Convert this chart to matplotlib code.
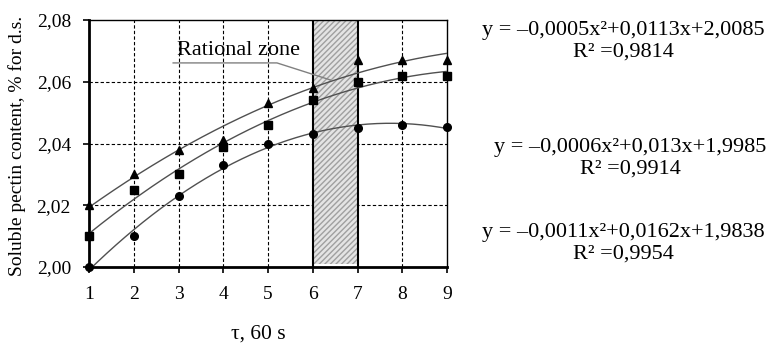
import numpy as np
import matplotlib.pyplot as plt
from matplotlib.patches import Rectangle

plt.rcParams['font.family'] = ['Liberation Serif', 'DejaVu Serif']

# time, x 60 s
tau = [1, 2, 3, 4, 5, 6, 7, 8, 9]
# soluble pectin content, % for d.s.
tri = [2.020, 2.030, 2.038, 2.041, 2.053, 2.058, 2.067, 2.067, 2.067]
sqr = [2.010, 2.025, 2.030, 2.039, 2.046, 2.054, 2.060, 2.062, 2.062]
circ = [2.000, 2.010, 2.023, 2.033, 2.040, 2.043, 2.045, 2.046, 2.0455]

eq_texts = ["y = \u20130,0005x\u00b2+0,0113x+2,0085\nR\u00b2 =0,9814",
            "y = \u20130,0006x\u00b2+0,013x+1,9985\nR\u00b2 =0,9914",
            "y = \u20130,0011x\u00b2+0,0162x+1,9838\nR\u00b2 =0,9954"]
zone = (6, 7)

fig = plt.figure(figsize=(7.71, 3.45), dpi=100)
ax = fig.add_axes([89/771, 1-267/345, 358/771, 247/345])

ax.set_xlim(1, 9)
ax.set_ylim(2.0, 2.08)

# dashed grid
for xv in [2, 3, 4, 5, 8]:
    ax.axvline(xv, color='black', ls=(0, (3, 2)), lw=0.8, zorder=1)
for yv in [2.02, 2.04, 2.06]:
    ax.axhline(yv, color='black', ls=(0, (3, 2)), lw=0.8, zorder=1)

# rational zone
ax.add_patch(Rectangle((zone[0], 2.001), zone[1]-zone[0], 0.079,
                       facecolor='#e4e4e4', edgecolor='#a0a0a0',
                       hatch='//////', lw=0, zorder=1))
for xv in zone:
    ax.axvline(xv, color='black', lw=1.5, zorder=2)

# trend lines
xs = np.linspace(1, 9, 200)
for ys in [tri, sqr, circ]:
    c = np.polyfit(tau, ys, 2)
    ax.plot(xs, np.polyval(c, xs), color='#505050', lw=1, zorder=3)

ax.plot(tau, tri, '^', color='black', ms=5.5, zorder=4, clip_on=False)
ax.plot(tau, sqr, 's', color='black', ms=6, zorder=4, clip_on=False)
ax.plot(tau, circ, 'o', color='black', ms=5.5, zorder=4, clip_on=False)

ax.set_xticks(tau)
ax.set_yticks([2.00, 2.02, 2.04, 2.06, 2.08])
ax.set_yticklabels(['2,00', '2,02', '2,04', '2,06', '2,08'])
ax.tick_params(labelsize=14, length=4, width=1.2, direction='out')
ax.tick_params(axis='x', pad=10)
ax.tick_params(axis='y', pad=9)
ax.spines['left'].set_linewidth(2)
ax.spines['bottom'].set_linewidth(2)
ax.spines['top'].set_linewidth(1)
ax.spines['right'].set_linewidth(1)

ax.set_xlabel('\u03c4, 60 s', fontsize=15.5)
ax.xaxis.set_label_coords((258-89)/358, -(325-267)/247)
ax.set_ylabel('Soluble pectin content, % for d.s.', fontsize=14)
ax.yaxis.set_label_coords(-(89-26)/358, (267-146)/247)

# annotation
ax.text(4.35, 2.0702, 'Rational zone', fontsize=16, ha='center', va='center', zorder=5)
ax.plot([2.88, 5.2, 6.39], [2.0661, 2.0661, 2.0606], color='#808080', lw=1, zorder=5)

ys_txt = [41, 158, 243]
xs_txt = [623, 630, 623]
for t, xp, yp in zip(eq_texts, xs_txt, ys_txt):
    fig.text(xp/771, 1-yp/345, t, fontsize=16, ha='center', va='center',
             linespacing=1.2)

fig.savefig('out.png', dpi=100)
